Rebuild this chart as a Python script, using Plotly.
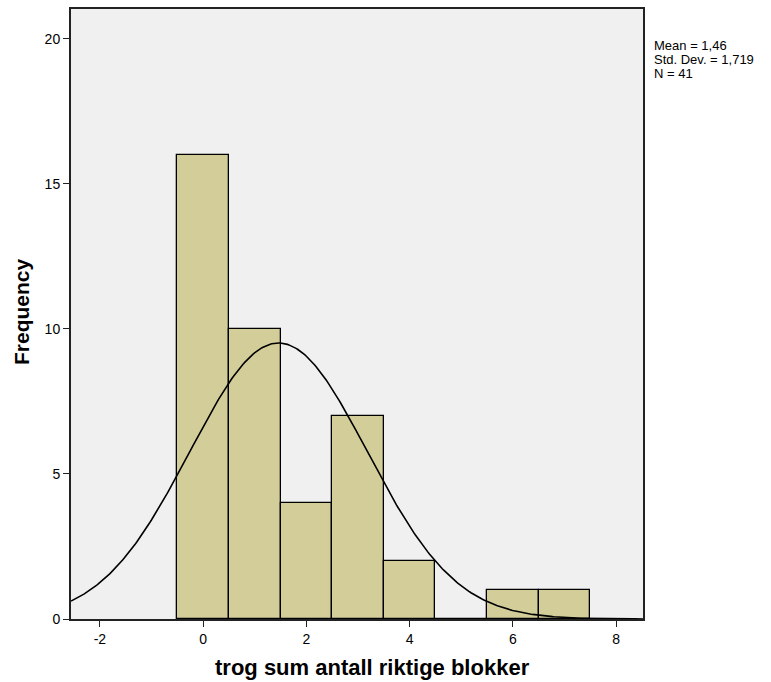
import numpy as np
import plotly.graph_objects as go

bin_centers = [0, 1, 2, 3, 4, 5, 6, 7]
counts = [16, 10, 4, 7, 2, 0, 1, 1]
mean_val = 1.46
sd_val = 1.719
n_val = 41
bin_width = 1.0

x_ticks = [-2, 0, 2, 4, 6, 8]
x_ticktext = ["-2", "0", "2", "4", "6", "8"]
y_ticks = [0, 5, 10, 15, 20]
stats_lines = ["Mean = 1,46", "Std. Dev. = 1,719", "N = 41"]

xc = np.linspace(-2.56, 8.52, 400)
yc = n_val * bin_width * np.exp(-0.5 * ((xc - mean_val) / sd_val) ** 2) / (sd_val * np.sqrt(2 * np.pi))

fig = go.Figure()
fig.add_trace(go.Bar(x=bin_centers, y=counts, width=bin_width,
                     marker=dict(color="#D3CE99", line=dict(color="black", width=1.3)),
                     hoverinfo="skip"))
fig.add_trace(go.Scatter(x=xc, y=yc, mode="lines", line=dict(color="black", width=1.6),
                         hoverinfo="skip"))

W, H = 771, 682
ml, mr, mt, mb = 71, 128, 9, 63
pw, ph = W - ml - mr, H - mt - mb

def px(x):
    return (x - ml) / pw

def py(y):
    return 1 - (y - mt) / ph

annots = []
for i, t in enumerate(stats_lines):
    annots.append(dict(xref="paper", yref="paper", x=px(653), y=py(45 + i * 14.2),
                       xanchor="left", yanchor="middle", align="left", showarrow=False,
                       font=dict(size=13), text=t, borderpad=0))
annots.append(dict(xref="paper", yref="paper", x=px(372), y=py(668), xanchor="center", yanchor="middle",
                   showarrow=False, font=dict(size=22), text="<b>trog sum antall riktige blokker</b>"))
annots.append(dict(xref="paper", yref="paper", x=px(21), y=py(312), xanchor="center", yanchor="middle",
                   showarrow=False, textangle=-90, font=dict(size=21), text="<b>Frequency</b>"))

fig.update_layout(
    width=W, height=H,
    margin=dict(l=ml, r=mr, t=mt, b=mb),
    paper_bgcolor="white", plot_bgcolor="#F0F0F0",
    showlegend=False, bargap=0,
    font=dict(family="Arial, Liberation Sans, sans-serif", size=14, color="black"),
    xaxis=dict(range=[-2.56, 8.52], tickvals=x_ticks, ticktext=x_ticktext, ticks="outside", ticklen=6,
               tickcolor="#222", showgrid=False, zeroline=False, automargin=False,
               showline=True, linecolor="#222", linewidth=2, mirror=True),
    yaxis=dict(range=[0, 21.03], tickvals=y_ticks, ticks="outside", ticklen=6,
               tickcolor="#222", showgrid=False, zeroline=False, automargin=False,
               showline=True, linecolor="#222", linewidth=2, mirror=True),
    annotations=annots,
)

fig.write_html("out.html")
